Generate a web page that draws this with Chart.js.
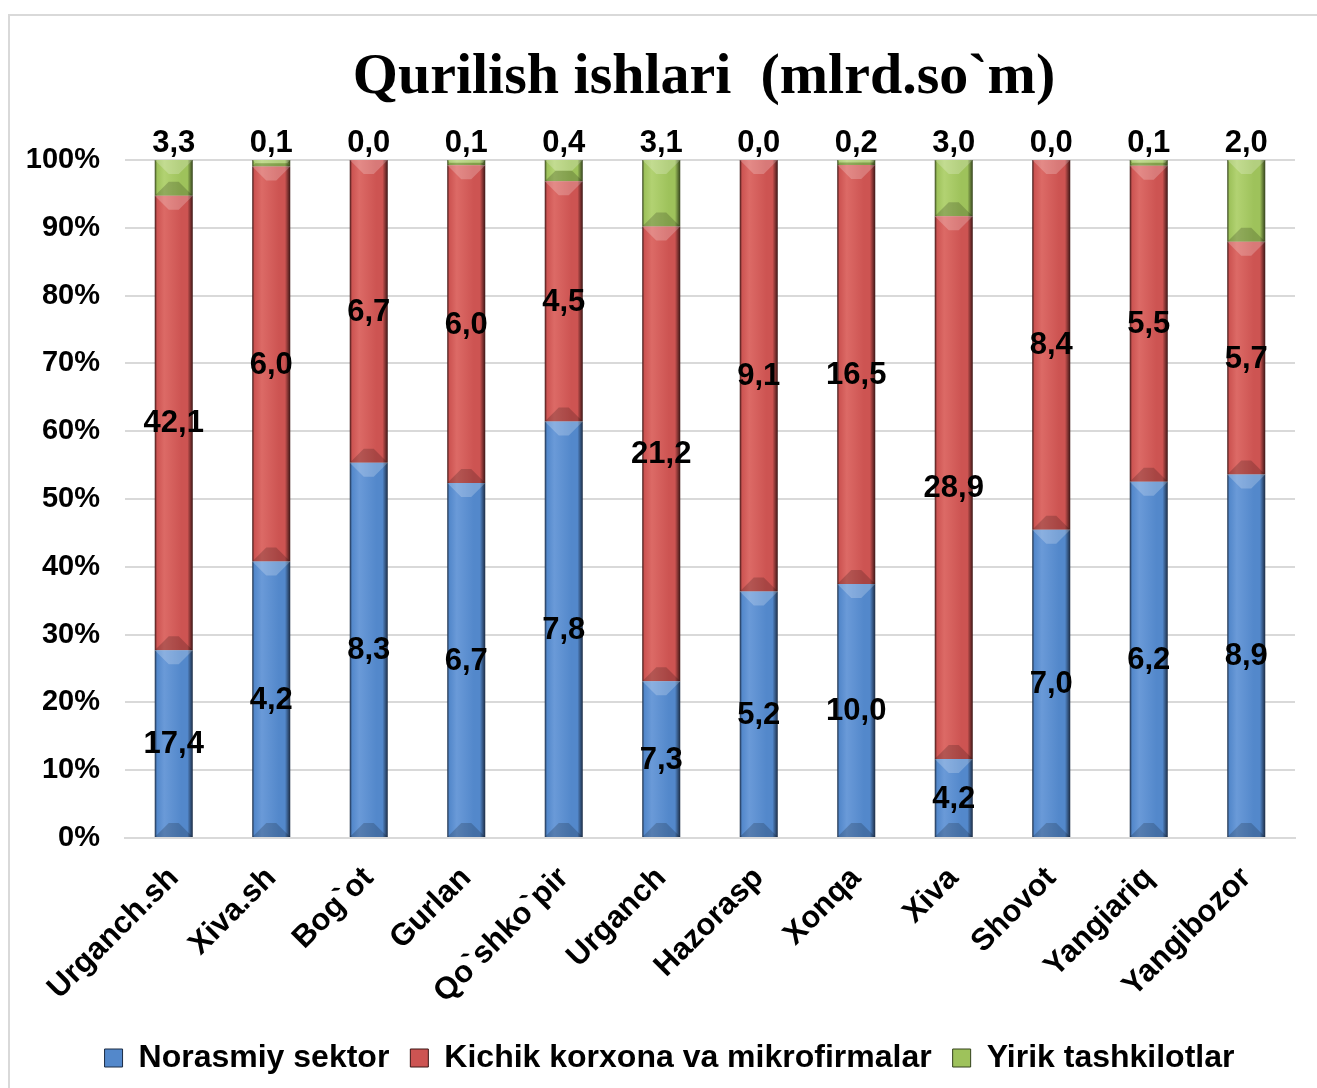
<!DOCTYPE html>
<html>
<head>
<meta charset="utf-8">
<script src="https://cdn.jsdelivr.net/npm/chart.js@4.4.1/dist/chart.umd.min.js"></script>
<style>
  html, body { margin: 0; padding: 0; background: #fff; overflow: hidden; }
  #frame { position: absolute; left: 8px; top: 14px; width: 1400px; height: 1200px; border: 2px solid #d9d9d9; }
  #wrap { position: absolute; left: 0; top: 0; width: 1317px; height: 1088px; }
</style>
</head>
<body>
<div id="frame"></div>
<div id="wrap"><canvas id="qurilishChart"></canvas></div>
<script>
const districts = ['Urganch.sh', 'Xiva.sh', 'Bog`ot', 'Gurlan', 'Qo`shko`pir', 'Urganch',
  'Hazorasp', 'Xonqa', 'Xiva', 'Shovot', 'Yangiariq', 'Yangibozor'];

// mlrd. so'm
const norasmiy = [17.4, 4.2, 8.3, 6.7, 7.8, 7.3, 5.2, 10.0, 4.2, 7.0, 6.2, 8.9];
const kichik   = [42.1, 6.0, 6.7, 6.0, 4.5, 21.2, 9.1, 16.5, 28.9, 8.4, 5.5, 5.7];
const yirik    = [3.3, 0.1, 0.0, 0.1, 0.4, 3.1, 0.0, 0.2, 3.0, 0.0, 0.1, 2.0];

const seriesNames = ['Norasmiy sektor', 'Kichik korxona va mikrofirmalar', 'Yirik tashkilotlar'];
const seriesValues = [norasmiy, kichik, yirik];
const yTicks = [0, 10, 20, 30, 40, 50, 60, 70, 80, 90, 100];

const totals = districts.map((d, i) => norasmiy[i] + kichik[i] + yirik[i]);
const share = arr => arr.map((v, i) => v / totals[i] * 100);

const palette = [
  { base: '#5388cb', light: '#6a9ad8', dark: '#1c2c44' },
  { base: '#cd5452', light: '#dc6a66', dark: '#3c1615' },
  { base: '#9ec25b', light: '#b2d272', dark: '#34421c' }
];

const BAR_PCT = 0.39;

function barFill(p) {
  return function(c) {
    const chart = c.chart;
    const area = chart.chartArea;
    if (!area || c.type !== 'data' || !chart.scales.x) return p.base;
    const x = chart.scales.x.getPixelForValue(c.dataIndex);
    const half = (area.right - area.left) / districts.length * BAR_PCT / 2;
    const g = chart.ctx.createLinearGradient(x - half, 0, x + half, 0);
    g.addColorStop(0, p.dark);
    g.addColorStop(0.06, p.base);
    g.addColorStop(0.25, p.light);
    g.addColorStop(0.7, p.base);
    g.addColorStop(0.86, p.base);
    g.addColorStop(1, p.dark);
    return g;
  };
}

const fmt = v => v.toFixed(1).replace('.', ',');

// bevel look on each segment (top light, bottom dark)
const bevel = {
  id: 'bevel',
  afterDatasetsDraw(chart) {
    const ctx = chart.ctx;
    ctx.save();
    chart.data.datasets.forEach((ds, di) => {
      chart.getDatasetMeta(di).data.forEach(bar => {
        const p = bar.getProps(['x', 'y', 'base', 'width'], true);
        const top = Math.min(p.y, p.base), bottom = Math.max(p.y, p.base);
        const h = bottom - top;
        if (h < 1) return;
        const l = p.x - p.width / 2, r = p.x + p.width / 2;
        const b = Math.min(14, h / 2, p.width / 2);
        ctx.fillStyle = 'rgba(255,255,255,0.22)';
        ctx.beginPath();
        ctx.moveTo(l, top); ctx.lineTo(r, top); ctx.lineTo(r - b, top + b); ctx.lineTo(l + b, top + b);
        ctx.closePath(); ctx.fill();
        ctx.fillStyle = 'rgba(0,0,0,0.18)';
        ctx.beginPath();
        ctx.moveTo(l, bottom); ctx.lineTo(r, bottom); ctx.lineTo(r - b, bottom - b); ctx.lineTo(l + b, bottom - b);
        ctx.closePath(); ctx.fill();
      });
    });
    ctx.restore();
  }
};

const valueLabels = {
  id: 'valueLabels',
  afterDatasetsDraw(chart) {
    const ctx = chart.ctx;
    ctx.save();
    ctx.font = 'bold 31px "Liberation Sans", Arial, sans-serif';
    ctx.fillStyle = '#000';
    ctx.textAlign = 'center';
    seriesValues.forEach((vals, di) => {
      chart.getDatasetMeta(di).data.forEach((bar, i) => {
        const p = bar.getProps(['x', 'y', 'base'], true);
        if (di === 2) {
          ctx.textBaseline = 'bottom';
          ctx.fillText(fmt(vals[i]), p.x, Math.min(p.y, p.base) - 1);
        } else {
          ctx.textBaseline = 'middle';
          ctx.fillText(fmt(vals[i]), p.x, (p.y + p.base) / 2 + 1);
        }
      });
    });
    ctx.restore();
  }
};

const titleText = {
  id: 'titleText',
  afterDraw(chart) {
    const ctx = chart.ctx;
    ctx.save();
    ctx.font = 'bold 58px "Liberation Serif", "Times New Roman", serif';
    ctx.fillStyle = '#000';
    ctx.textAlign = 'center';
    ctx.textBaseline = 'alphabetic';
    ctx.fillText('Qurilish ishlari  (mlrd.so`m)', 704, 93);
    ctx.restore();
  }
};

// legend in the reference sits a little right of the canvas centre
const legendShift = {
  id: 'legendShift',
  afterLayout(chart) {
    if (chart.legend) {
      chart.legend.left += 22;
      chart.legend.right += 22;
    }
  }
};

const ctx = document.getElementById('qurilishChart').getContext('2d');

const qurilishChart = new Chart(ctx, {
  type: 'bar',
  data: {
    labels: districts,
    datasets: seriesValues.map((vals, i) => ({
      label: seriesNames[i],
      data: share(vals),
      backgroundColor: barFill(palette[i]),
      borderWidth: 0,
      categoryPercentage: 1,
      barPercentage: BAR_PCT
    }))
  },
  options: {
    responsive: true,
    maintainAspectRatio: false,
    animation: false,
    layout: { padding: { top: 160, right: 22, bottom: 4, left: 0 } },
    plugins: {
      title: { display: false },
      tooltip: { enabled: false },
      legend: {
        position: 'bottom',
        labels: {
          color: '#000',
          font: { family: '"Liberation Sans", Arial, sans-serif', size: 32, weight: 'bold' },
          boxWidth: 18,
          boxHeight: 18,
          padding: 21,
          generateLabels(chart) {
            return chart.data.datasets.map((ds, i) => ({
              text: ds.label,
              fillStyle: palette[i].base,
              strokeStyle: palette[i].dark,
              lineWidth: 1,
              hidden: false,
              datasetIndex: i
            }));
          }
        }
      }
    },
    scales: {
      x: {
        stacked: true,
        grid: { display: false },
        border: { color: '#d9d9d9', width: 2 },
        ticks: {
          color: '#000',
          font: { family: '"Liberation Sans", Arial, sans-serif', size: 31, weight: 'bold' },
          minRotation: 45,
          maxRotation: 45,
          padding: 14,
          autoSkip: false
        },
        afterFit(scale) {
          scale.height = 1088 - 838 - 4 - (scale.chart.legend ? scale.chart.legend.height : 60);
        }
      },
      y: {
        stacked: true,
        min: 0,
        max: 100,
        afterBuildTicks(scale) {
          scale.ticks = yTicks.map(v => ({ value: v }));
        },
        grid: { color: '#d9d9d9', lineWidth: 2, drawTicks: false },
        border: { display: false },
        ticks: {
          color: '#000',
          font: { family: '"Liberation Sans", Arial, sans-serif', size: 29, weight: 'bold' },
          padding: 25,
          callback: v => v + '%'
        },
        afterFit(scale) { scale.width = 125; }
      }
    }
  },
  plugins: [bevel, valueLabels, titleText, legendShift]
});
</script>
</body>
</html>
